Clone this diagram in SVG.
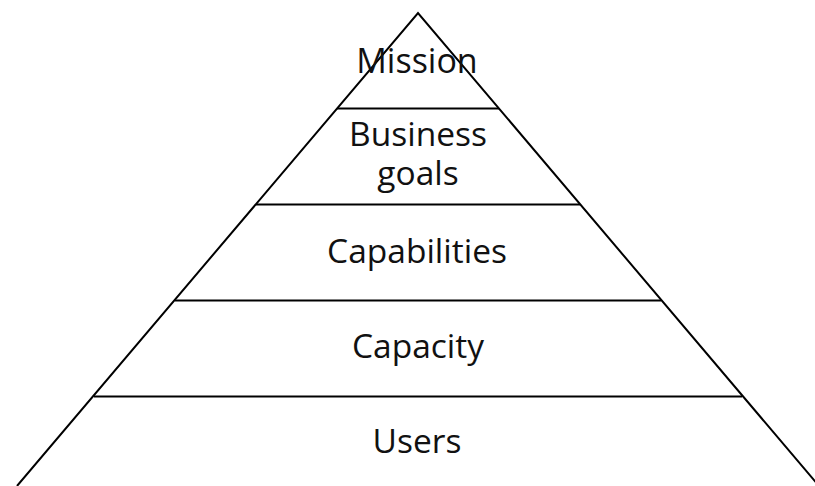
<svg xmlns="http://www.w3.org/2000/svg" width="815" height="486" viewBox="0 0 815 486">
<style>
.edge{stroke:#000;stroke-width:2;fill:none}
.lbl{font-family:"Open Sans",Lato,sans-serif;font-size:33.5px;fill:#111;text-anchor:middle;font-variant-ligatures:none}
.big{font-size:34px}
</style>
<rect width="815" height="486" fill="#fff"/>
<g id="connectors">
<path class="edge" d="M17,486 L418,13 L819,486"/>
<line class="edge" x1="337" y1="108.5" x2="499" y2="108.5"/>
<line class="edge" x1="256" y1="204.5" x2="580" y2="204.5"/>
<line class="edge" x1="175" y1="300.5" x2="661" y2="300.5"/>
<line class="edge" x1="94" y1="396.5" x2="742" y2="396.5"/>
</g>
<g id="mission"><text class="lbl big" x="417" y="73">Mission</text></g>
<g id="business-goals"><text class="lbl" x="418" y="146">Business</text><text class="lbl" x="418" y="185">goals</text></g>
<g id="capabilities"><text class="lbl" x="417" y="263">Capabilities</text></g>
<g id="capacity"><text class="lbl" x="418" y="358">Capacity</text></g>
<g id="users"><text class="lbl" x="417" y="453">Users</text></g>
</svg>
